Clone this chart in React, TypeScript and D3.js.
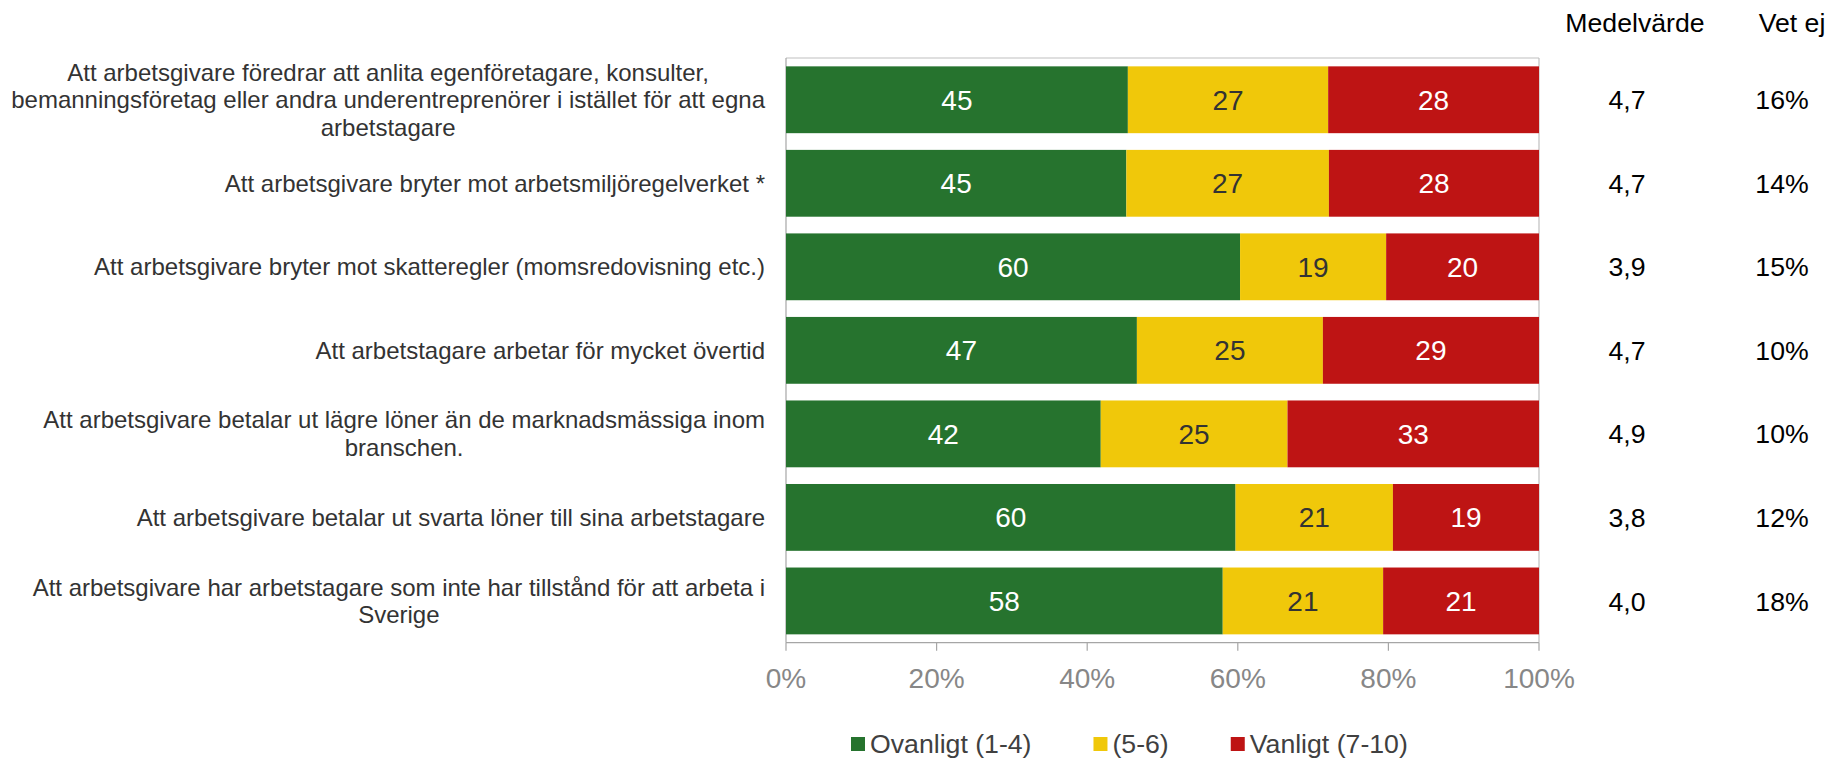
import React from "react";
import * as d3 from "d3";

const categories: string[][] = [
  [
    "Att arbetsgivare föredrar att anlita egenföretagare, konsulter,",
    "bemanningsföretag eller andra underentreprenörer i istället för att egna",
    "arbetstagare",
  ],
  ["Att arbetsgivare bryter mot arbetsmiljöregelverket *"],
  ["Att arbetsgivare bryter mot skatteregler (momsredovisning etc.)"],
  ["Att arbetstagare arbetar för mycket övertid"],
  [
    "Att arbetsgivare betalar ut lägre löner än de marknadsmässiga inom",
    "branschen.",
  ],
  ["Att arbetsgivare betalar ut svarta löner till sina arbetstagare"],
  [
    "Att arbetsgivare har arbetstagare som inte har tillstånd för att arbeta i",
    "Sverige",
  ],
];

const ovanligt: number[] = [45.4, 45.2, 60.3, 46.6, 41.8, 59.7, 58.0];
const mellan: number[] = [26.6, 26.9, 19.4, 24.7, 24.8, 20.9, 21.3];
const vanligt: number[] = [28.0, 27.9, 20.3, 28.7, 33.4, 19.4, 20.7];

const medelvarde: string[] = ["4,7", "4,7", "3,9", "4,7", "4,9", "3,8", "4,0"];
const vetEj: string[] = ["16%", "14%", "15%", "10%", "10%", "12%", "18%"];

const seriesNames: string[] = ["Ovanligt (1-4)", "(5-6)", "Vanligt (7-10)"];
const seriesKeys: string[] = ["ovanligt", "mellan", "vanligt"];
const seriesColors: string[] = ["#26732E", "#F0C80A", "#BE1414"];
const labelColors: string[] = ["#FFFFFF", "#333333", "#FFFFFF"];

const xTicks: number[] = [0, 20, 40, 60, 80, 100];

const FONT = "'Liberation Sans', Arial, Helvetica, sans-serif";

let measureCtx: CanvasRenderingContext2D | null = null;
function measure(text: string, size: number): number {
  if (!measureCtx) {
    const c = document.createElement("canvas");
    measureCtx = c.getContext("2d");
  }
  if (!measureCtx) return text.length * size * 0.5;
  measureCtx.font = `${size}px ${FONT}`;
  return measureCtx.measureText(text).width;
}

export default function App() {
  const W = 1841;
  const H = 759;
  const plotLeft = 786;
  const plotRight = 1539;
  const plotTop = 58;
  const plotBottom = 642.7;

  const rows = categories.map((c, i) => ({
    idx: i,
    ovanligt: ovanligt[i],
    mellan: mellan[i],
    vanligt: vanligt[i],
  }));

  const x = d3.scaleLinear().domain([0, 100]).range([plotLeft, plotRight]);
  const y = d3
    .scaleBand<number>()
    .domain(rows.map((r) => r.idx))
    .range([plotTop, plotBottom])
    .paddingInner(0.2)
    .paddingOuter(0.1);

  const stacked = d3.stack<any>().keys(seriesKeys)(rows);

  const catFont = 24;
  const catLine = 27.6;
  const catRight = 765;

  // legend layout
  const legFont = 26.67;
  const legSquare = 14;
  const legGap = 5;
  const legSpacing = 62;
  let legX = 851;
  const legendItems = seriesNames.map((name, i) => {
    const item = { name, color: seriesColors[i], x: legX };
    legX += legSquare + legGap + measure(name, legFont) + legSpacing;
    return item;
  });

  return (
    <svg
      width={W}
      height={H}
      style={{ position: "absolute", left: 0, top: 0, background: "#fff" }}
      fontFamily={FONT}
    >
      <rect x={0} y={0} width={W} height={H} fill="#ffffff" />

      {/* plot frame */}
      <line x1={plotLeft} x2={plotRight} y1={plotTop} y2={plotTop} stroke="#BFBFBF" strokeWidth={1.2} />
      <line x1={plotRight} x2={plotRight} y1={plotTop} y2={plotBottom} stroke="#BFBFBF" strokeWidth={1.2} />
      <line x1={plotLeft} x2={plotLeft} y1={plotTop} y2={plotBottom} stroke="#A6A6A6" strokeWidth={1.2} />

      {/* bars */}
      {stacked.map((layer, si) => (
        <g key={seriesKeys[si]} fill={seriesColors[si]}>
          {layer.map((d: any, i: number) => (
            <rect
              key={i}
              x={x(d[0])}
              y={y(rows[i].idx)}
              width={x(d[1]) - x(d[0])}
              height={y.bandwidth()}
            />
          ))}
        </g>
      ))}

      {/* bar labels */}
      {stacked.map((layer, si) => (
        <g key={"lbl" + seriesKeys[si]}>
          {layer.map((d: any, i: number) => (
            <text
              key={i}
              x={(x(d[0]) + x(d[1])) / 2}
              y={(y(rows[i].idx) as number) + y.bandwidth() / 2}
              dy="0.36em"
              textAnchor="middle"
              fontSize={28}
              fill={labelColors[si]}
            >
              {Math.round(d[1] - d[0])}
            </text>
          ))}
        </g>
      ))}

      {/* x axis */}
      <line x1={plotLeft} x2={plotRight} y1={plotBottom} y2={plotBottom} stroke="#A6A6A6" strokeWidth={1.2} />
      {xTicks.map((t) => (
        <g key={t}>
          <line x1={x(t)} x2={x(t)} y1={plotBottom} y2={plotBottom + 8} stroke="#A6A6A6" strokeWidth={1.2} />
          <text x={x(t)} y={688} textAnchor="middle" fontSize={28} fill="#878787">
            {t}%
          </text>
        </g>
      ))}

      {/* category labels */}
      {categories.map((lines, i) => {
        const blockW = Math.max(...lines.map((l) => measure(l, catFont)));
        const cx = catRight - blockW / 2;
        const cy = (y(i) as number) + y.bandwidth() / 2;
        const startY = cy - ((lines.length - 1) * catLine) / 2;
        return (
          <text key={i} fontSize={catFont} fill="#333333" textAnchor="middle">
            {lines.map((l, li) => (
              <tspan key={li} x={cx} y={startY + li * catLine} dy="0.35em">
                {l}
              </tspan>
            ))}
          </text>
        );
      })}

      {/* right columns */}
      <text x={1635} y={32} textAnchor="middle" fontSize={26.67} fill="#000">
        Medelvärde
      </text>
      <text x={1792} y={32} textAnchor="middle" fontSize={26.67} fill="#000">
        Vet ej
      </text>
      {medelvarde.map((v, i) => (
        <text
          key={"m" + i}
          x={1627}
          y={(y(i) as number) + y.bandwidth() / 2}
          dy="0.36em"
          textAnchor="middle"
          fontSize={26.67}
          fill="#000"
        >
          {v}
        </text>
      ))}
      {vetEj.map((v, i) => (
        <text
          key={"v" + i}
          x={1782}
          y={(y(i) as number) + y.bandwidth() / 2}
          dy="0.36em"
          textAnchor="middle"
          fontSize={26.67}
          fill="#000"
        >
          {v}
        </text>
      ))}

      {/* legend */}
      {legendItems.map((it) => (
        <g key={it.name}>
          <rect x={it.x} y={737} width={legSquare} height={legSquare} fill={it.color} />
          <text x={it.x + legSquare + legGap} y={752.5} fontSize={legFont} fill="#404040">
            {it.name}
          </text>
        </g>
      ))}
    </svg>
  );
}
